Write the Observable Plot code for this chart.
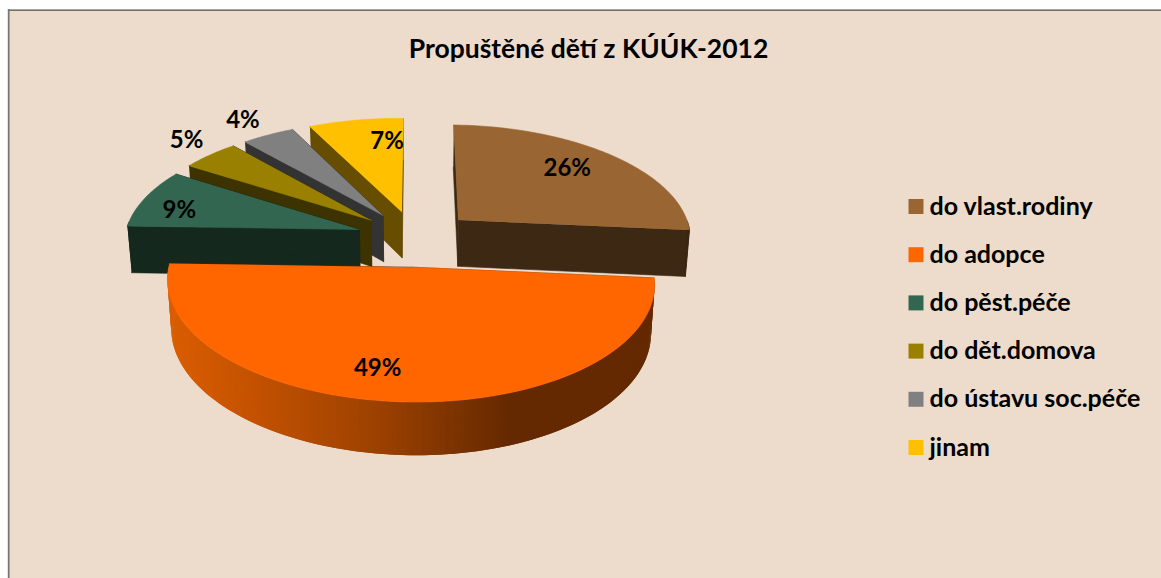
<!DOCTYPE html>
<html><head><meta charset="utf-8">
<script src="https://cdn.jsdelivr.net/npm/d3@7"></script>
<script src="https://cdn.jsdelivr.net/npm/@observablehq/plot@0.6"></script>
<style>html,body{margin:0;padding:0;background:#fff;overflow:hidden}svg{display:block}</style>
</head><body><div id="chart"></div>
<script>
const titleText = "Propuštěné dětí z KÚÚK-2012";
const categories = ["do vlast.rodiny","do adopce","do pěst.péče","do dět.domova","do ústavu soc.péče","jinam"];
const shares = [26.05,49.05,8.6,4.6,4.2,7.49];
const topColors = ["#996633","#FF6600","#336650","#998000","#808080","#FFC000"];
const wallColors = ["#3d2814","#662900","#14281e","#3d3300","#333333","#664d00"];

// layout of the perspective pie
const cx=415, cy=237, R=234, Rv=230.7, Eu=62, Ev=56, D=1900, yh=-674, H=47, roll=0.012, taper=0.985;
const nudgeU=[-1.5,-2,3,2.5,2,.5], nudgeV=[0,-4,0,0,0,0];
const labelRadius=[.73,.75,.83,1.23,1.24,.73];
const labelTurn=[-2,8,-2.6,.8,-3,6];
const labelNudge=[[0,-1],[2,6],[2,3],[8,0],[11,-1],[4,-1]];
const rad=d=>d*Math.PI/180;
function proj(U,V){const s=1/(1+V/D);const x=cx+U*s;return {x,y:yh+(cy-yh)*s+roll*(x-cx),s};}
function low(p){return {x:cx+(p.x-cx)*taper,y:p.y+H*Math.pow(p.s,.75)};}

const total=d3.sum(shares);
let acc=0;
const slices=shares.map((v,i)=>{const a0=acc/total*360;acc+=v;const a1=acc/total*360;const m=(a0+a1)/2;
  return {i,v,a0,a1,m,ou:Eu*Math.sin(rad(m))+nudgeU[i],ov:Ev*Math.cos(rad(m))+nudgeV[i]};});
const onRim=(sl,a,f=1)=>proj(sl.ou+f*R*Math.sin(rad(a)),sl.ov+f*Rv*Math.cos(rad(a)));
const flat=[],side=[],front=[];let fid=0;
function face(list,pts,color){const id=fid++;pts.forEach(p=>list.push({x:p.x,y:p.y,id,color}));}
const sideColor=d3.scaleLinear().domain([170,250,383,510,660]).range(["#d95d00","#c45200","#9a4000","#652900","#642900"]);
const order=[5,4,3,2,0,1];
for(const i of order){const sl=slices[i];
  const vertex=proj(sl.ou,sl.ov);
  const A=onRim(sl,sl.a0),B=onRim(sl,sl.a1);
  const topList=i===1?front:flat;
  face(flat,[A,vertex,low(vertex),low(A)],wallColors[i]);
  face(flat,[B,vertex,low(vertex),low(B)],wallColors[i]);
  const angles=d3.range(sl.a0,sl.a1,1).concat(sl.a1);
  for(let k=0;k<angles.length-1;k++){const a=angles[k],b=angles[k+1],c=angles[Math.min(k+2,angles.length-1)];
    if(Math.cos(rad((a+b)/2))<0.02){const p=onRim(sl,a),q=onRim(sl,c);
      if(i===1) face(side,[p,q,low(q),low(p)],sideColor((p.x+onRim(sl,b).x)/2));
      else face(flat,[p,q,low(q),low(p)],wallColors[i]);}}
  face(topList,[vertex,...angles.map(a=>onRim(sl,a))],topColors[i]);
}
const labels=slices.map((sl,i)=>{const p=onRim(sl,sl.m+labelTurn[i],labelRadius[i]);return {x:p.x+labelNudge[i][0],y:p.y+labelNudge[i][1],t:Math.round(sl.v)+"%"};});
const legend=categories.map((c,i)=>({c,i,color:topColors[i]}));
const legY=i=>206+48.2*i;
const font="Lato, Carlito, sans-serif";
const chart=Plot.plot({width:1161,height:578,margin:0,
  x:{axis:null,domain:[0,1161],range:[0,1161]},
  y:{axis:null,domain:[0,578],range:[0,578]},
  style:{background:"#fff"},
  marks:[
    Plot.rect([0],{x1:()=>8,x2:()=>1161,y1:()=>9,y2:()=>578,fill:"#EDDCCB"}),
    Plot.ruleY([9.8],{x1:8,x2:1161,stroke:"#6e6e6e",strokeWidth:1.6}),
    Plot.ruleX([8.2],{y1:9,y2:578,stroke:"#777",strokeWidth:1.8}),
    Plot.line(flat,{x:"x",y:"y",z:"id",fill:"color",stroke:"color",strokeWidth:.6,curve:"linear"}),
    Plot.line(side,{x:"x",y:"y",z:"id",fill:"color",stroke:"none",curve:"linear"}),
    Plot.line(front,{x:"x",y:"y",z:"id",fill:"color",stroke:"color",strokeWidth:.6,curve:"linear"}),
    Plot.text(labels,{x:"x",y:"y",text:"t",fontSize:24,fontWeight:700,fontFamily:font,fill:"#000"}),
    Plot.text([titleText],{x:()=>588,y:()=>49.5,text:d=>d,fontSize:26.5,fontWeight:700,fontFamily:font,fill:"#000"}),
    Plot.dot(legend,{x:()=>915.5,y:d=>legY(d.i),symbol:"square",r:8.46,fill:"color",stroke:"none"}),
    Plot.text(legend,{x:()=>929,y:d=>legY(d.i),text:"c",textAnchor:"start",fontSize:25,fontWeight:700,fontFamily:font,fill:"#000"})
  ]});
document.getElementById("chart").append(chart);
</script></body></html>
